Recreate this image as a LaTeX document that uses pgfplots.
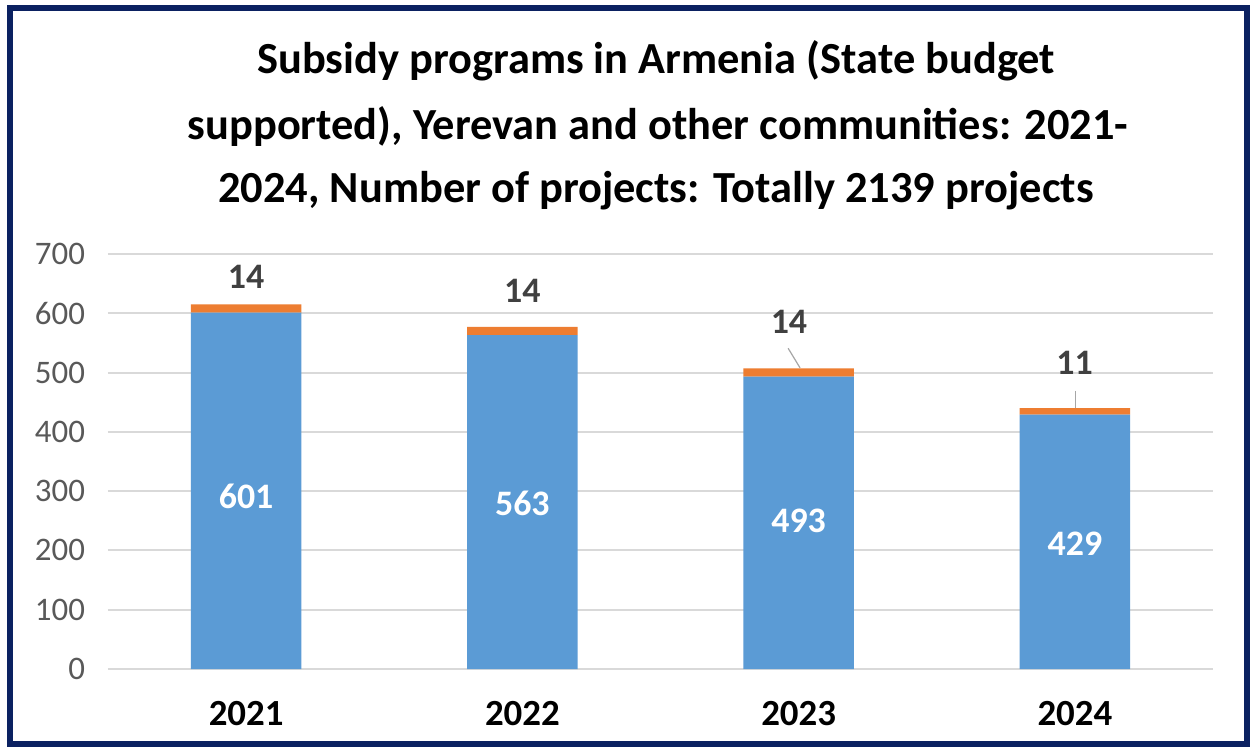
\documentclass[border=0pt]{standalone}
\usepackage{pgfplots}
\pgfplotsset{compat=1.18}
\usepackage{fontspec}
\setmainfont{Carlito}
\definecolor{barblue}{HTML}{5B9BD5}
\definecolor{barorange}{HTML}{ED7D31}
\definecolor{tickgray}{HTML}{595959}
\definecolor{lblgray}{HTML}{404040}
\definecolor{framenavy}{HTML}{0B2161}
\definecolor{gridgray}{HTML}{D9D9D9}
\definecolor{leadergray}{HTML}{A6A6A6}
\tikzset{
  inlbl/.style={font=\fontsize{18}{21}\selectfont\bfseries, text=white},
  toplbl/.style={font=\fontsize{18}{21}\selectfont\bfseries, text=lblgray},
  ttl/.style={font=\fontsize{22.3}{26}\selectfont\bfseries, anchor=base},
}
\begin{document}
\begin{tikzpicture}[x=1bp,y=1bp]
\path[use as bounding box] (-54,-41) rectangle (571.5,334.5);
\fill[white] (-54,-41) rectangle (571.5,334.5);
\begin{axis}[
  at={(0,0)}, anchor=south west,
  scale only axis, width=552.5bp, height=207.5bp,
  xmin=-0.5, xmax=3.5, ymin=0, ymax=700,
  ybar stacked, bar width=0.4,
  axis line style={draw=none},
  tick style={draw=none},
  ytick={0,100,...,700},
  xtick={0,1,2,3}, xticklabels={2021,2022,2023,2024},
  ymajorgrids, major grid style={gridgray, line width=1bp},
  yticklabel style={font=\fontsize{16.5}{19}\selectfont, text=tickgray, /pgf/number format/assume math mode=true, xshift=-8bp},
  xticklabel style={font=\fontsize{18.5}{22}\selectfont\bfseries, text=black, yshift=-12.5bp},
]
\addplot[fill=barblue, draw=none] coordinates {(0,601) (1,563) (2,493) (3,429)};
\addplot[fill=barorange, draw=none] coordinates {(0,14) (1,14) (2,14) (3,11)};
\coordinate (i0) at (axis cs:0,292);
\coordinate (i1) at (axis cs:1,280);
\coordinate (i2) at (axis cs:2,250);
\coordinate (i3) at (axis cs:3,212);
\node[toplbl] at (axis cs:0,661) {14};
\node[toplbl] at (axis cs:1,637.5) {14};
\node[toplbl] at (axis cs:1.965,585) {14};
\node[toplbl] at (axis cs:2.999,516) {11};
\draw[leadergray, line width=0.6bp] (axis cs:1.962,541) -- (axis cs:2.005,508);
\draw[leadergray, line width=0.6bp] (axis cs:3.003,469) -- (axis cs:3.003,440);
\end{axis}
\node[inlbl] at (i0) {601};
\node[inlbl] at (i1) {563};
\node[inlbl] at (i2) {493};
\node[inlbl] at (i3) {429};
\node[ttl] at (274,298) {Subsidy programs in Armenia (State budget};
\node[ttl] at (275,265) {supported), Yerevan and other communities: 2021-};
\node[ttl] at (274,233.5) {2024, Number of projects: Totally 2139 projects};
\draw[framenavy, line width=3bp] (-49,-37.5) rectangle (569.5,330.25);
\end{tikzpicture}
\end{document}
